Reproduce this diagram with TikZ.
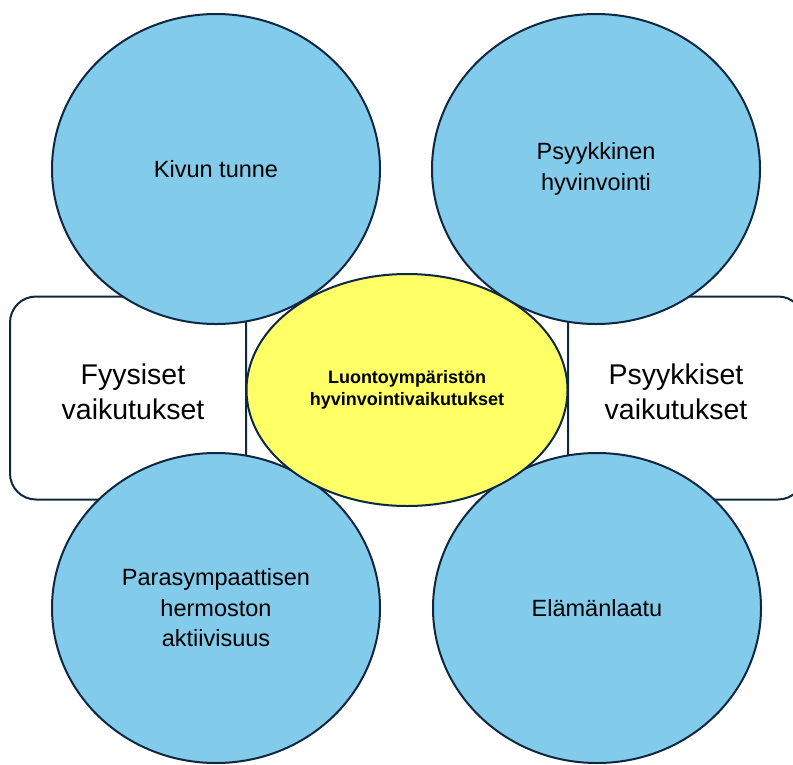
\documentclass[tikz,border=0pt]{standalone}
\usepackage{fontspec}
\setmainfont{Liberation Sans}
\usetikzlibrary{shapes.geometric}
\definecolor{edgec}{HTML}{0E2841}
\definecolor{bluec}{HTML}{83CBEB}
\definecolor{yelc}{HTML}{FFFF66}
\tikzset{
  bubble/.style={ellipse, draw=edgec, line width=2pt, fill=bluec, inner sep=0pt,
    minimum width=328pt, minimum height=310pt, align=center, font=\fontsize{23.5}{30.5}\selectfont},
  sidebox/.style={rectangle, rounded corners=26pt, draw=edgec, line width=2pt, fill=white,
    align=center},
  sidetext/.style={align=center, font=\fontsize{28.5}{35}\selectfont},
  hub/.style={ellipse, draw=edgec, line width=2pt, fill=yelc, inner sep=0pt,
    minimum width=321pt, minimum height=232pt, align=center, font=\bfseries\fontsize{18}{21.5}\selectfont}
}
\begin{document}
\begin{tikzpicture}[x=1pt,y=-1pt]
\useasboundingbox (0,0) rectangle (793,764);
\node[sidebox, minimum width=236pt, minimum height=203pt] (lbox) at (128,398) {};
\node[sidebox, minimum width=236pt, minimum height=203pt] (rbox) at (686,398) {};
\node[bubble] (tl) at (216,169) {Kivun tunne};
\node[bubble] (tr) at (596,169) {Psyykkinen\\hyvinvointi};
\node[bubble] (bl) at (216,608) {Parasympaattisen\\hermoston\\aktiivisuus};
\node[bubble] (br) at (597,608) {Elämänlaatu};
\node[hub] (c) at (407,390) {Luontoympäristön\\hyvinvointivaikutukset};
\node[sidetext] (lt) at (133,392) {Fyysiset\\vaikutukset};
\node[sidetext] (rt) at (676,392) {Psyykkiset\\vaikutukset};
\end{tikzpicture}
\end{document}
